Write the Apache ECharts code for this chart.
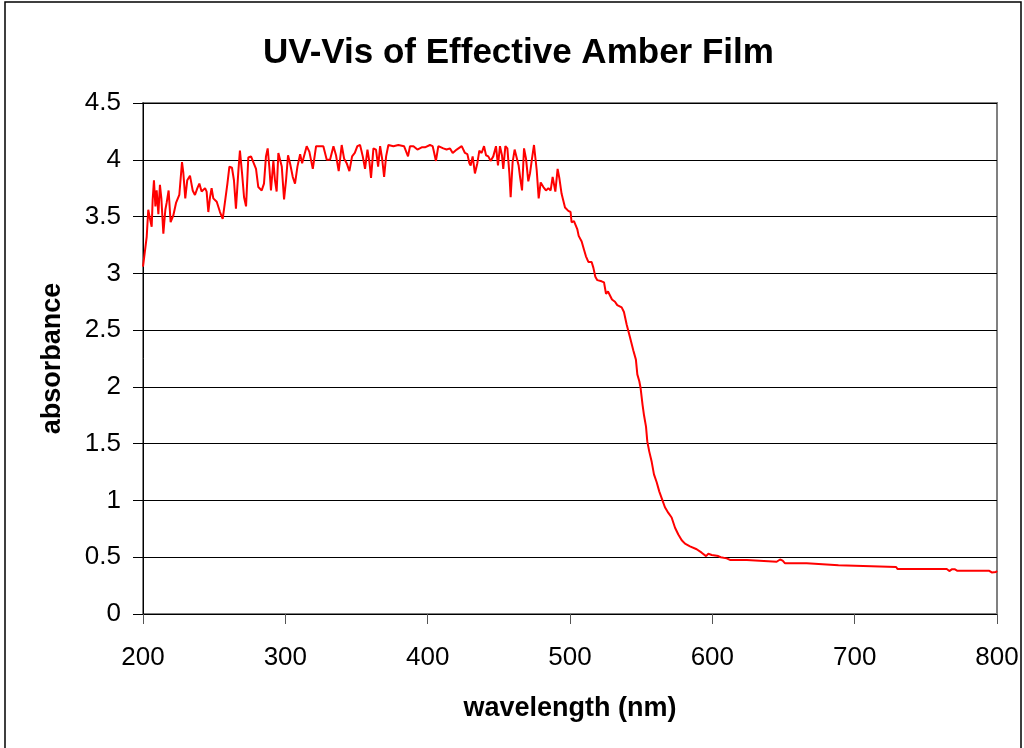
<!DOCTYPE html>
<html>
<head>
<meta charset="utf-8">
<script src="https://cdn.jsdelivr.net/npm/echarts@6/dist/echarts.min.js"></script>
<style>
  html, body { margin: 0; padding: 0; background: #fff; }
  #main { width: 1024px; height: 748px; }
</style>
</head>
<body>
<div id="main"></div>
<script>
// wavelength (nm) and absorbance
const wavelength = [
  200, 202.6, 203.7, 204.9, 206.1, 206.8, 207.7, 208.7, 209.6, 210.8, 211.9, 212.9, 214.3, 215.7, 216.6, 218, 219.4,
  221.3, 223.2, 225.5, 227.4, 228.3, 229.7, 231.1, 233, 234.9, 236.5, 238.2, 239.6, 241.2, 243.6, 244.7, 245.9,
  247.1, 248.2, 249.4, 251.8, 254.1, 256, 257.6, 259.3, 260.7, 262.5, 263.9, 265.3, 267, 268.1, 269.6, 271, 272.4,
  274, 275.9, 277.5, 279.4, 281, 283.4, 285, 286.4, 287.6, 288.8, 289.9, 291.6, 292.7, 293.9, 295.1, 296.3, 297.5,
  299.1, 300.5, 301.9, 303.3, 305.2, 306.8, 308.5, 310.4, 311.8, 313.2, 315, 316.9, 319.3, 321.6, 324, 326.7, 329.1,
  331.4, 333.8, 335.6, 337.5, 339.6, 341.3, 343.1, 345, 346.9, 348.8, 350.6, 352.5, 354.4, 356, 357.7, 359.1, 360.2,
  361.9, 363.7, 365.2, 366.6, 368, 369.4, 370.8, 372.4, 375.9, 379.4, 383.4, 386.2, 387.6, 390, 392.8, 395.8, 398.1,
  401.6, 403.5, 404.4, 405.8, 407.5, 411, 413.3, 415.7, 417.6, 420.4, 423.9, 426.2, 427.9, 429.3, 430.2, 431.6, 433.2,
  434.9, 436.3, 437.9, 439.6, 441, 442.6, 444.2, 446.1, 448, 449.4, 450.8, 452.2, 453.1, 454.6, 456, 457.4, 458.3,
  459.7, 461.1, 462.5, 463.9, 464.9, 466.3, 467.7, 469.1, 470.7, 471.9, 473.3, 474.7, 475.6, 476.6, 478, 479.4, 481.3,
  483.1, 484.8, 486.4, 487.8, 489.7, 491.3, 492.5, 494.1, 496.5, 498.8, 500.4, 501.1, 502.8, 504.2, 505.1, 506.1,
  508.2, 509.8, 511.2, 512.9, 515.2, 516.4, 517.8, 519.2, 522.2, 523.9, 525.3, 526.7, 528.1, 529.5, 531.6, 533.2,
  536.3, 537.9, 539.8, 542.1, 544.5, 546.3, 547.3, 548.7, 549.6, 551, 552, 553.4, 554.3, 555.7, 557.4, 559, 560.9,
  562.7, 564.4, 566.7, 569.1, 571.4, 573.8, 576.1, 578.5, 580.8, 584.3, 589, 592.5, 595.6, 597.2, 599.6, 600.7, 604.2,
  605.9, 610.1, 612.4, 624.2, 625.3, 645.2, 647.6, 649.4, 651.1, 666.3, 667.5, 688.6, 689.7, 729.1, 730.2, 764.7,
  766.5, 768.2, 770.5, 772.2, 794.6, 796.3, 799.3, 800
];
const absorbance = [
  3.06, 3.32, 3.56, 3.48, 3.41, 3.65, 3.82, 3.59, 3.73, 3.52, 3.78, 3.66, 3.35, 3.56, 3.62, 3.73, 3.45,
  3.51, 3.62, 3.69, 3.98, 3.89, 3.66, 3.82, 3.86, 3.73, 3.69, 3.75, 3.79, 3.72, 3.75, 3.72, 3.54,
  3.67, 3.75, 3.66, 3.63, 3.54, 3.48, 3.63, 3.79, 3.94, 3.93, 3.82, 3.57, 3.9, 4.08, 3.88, 3.67, 3.59,
  4.02, 4.03, 3.98, 3.92, 3.76, 3.73, 3.79, 4.03, 4.1, 3.93, 3.73, 3.99, 3.82, 3.72, 4.06, 4.07, 3.94,
  3.65, 3.82, 4.04, 3.97, 3.85, 3.79, 3.94, 4.05, 3.97, 3.98, 4.12, 4.07, 3.92, 4.12, 4.12, 4.12, 4.0,
  4.0, 4.12, 4.04, 3.9, 4.13, 4.01, 3.97, 3.9, 4.03, 4.06, 4.12, 4.13, 4.03, 3.92, 4.09, 3.98, 3.84,
  4.1, 4.09, 3.94, 4.12, 4.01, 3.85, 4.03, 4.13, 4.12, 4.13, 4.12, 4.03, 4.12, 4.12, 4.09, 4.11, 4.11,
  4.13, 4.12, 4.07, 3.99, 4.12, 4.1, 4.09, 4.1, 4.06, 4.09, 4.12, 4.06, 4.05, 3.97, 3.95, 4.03, 3.88,
  3.97, 4.08, 4.06, 4.12, 4.04, 4.03, 3.99, 4.03, 4.12, 3.95, 4.12, 4.04, 3.92, 4.12, 4.1, 3.88, 3.67,
  3.98, 4.09, 4.1, 3.95, 3.85, 3.73, 4.1, 4.01, 3.81, 3.88, 4.01, 4.13, 4.13, 3.91, 3.66, 3.8, 3.76,
  3.73, 3.75, 3.73, 3.85, 3.72, 3.92, 3.84, 3.7, 3.58, 3.55, 3.54, 3.45, 3.46, 3.46, 3.39, 3.33,
  3.28, 3.21, 3.15, 3.1, 3.1, 3.05, 2.97, 2.94, 2.93, 2.92, 2.82, 2.84, 2.85, 2.77, 2.75, 2.72,
  2.7, 2.66, 2.55, 2.44, 2.32, 2.24, 2.11, 2.05, 1.99, 1.84, 1.75, 1.65, 1.52, 1.43, 1.34, 1.23, 1.16,
  1.08, 1.02, 0.94, 0.89, 0.85, 0.76, 0.7, 0.65, 0.62, 0.595, 0.57, 0.54, 0.51, 0.53, 0.52, 0.51, 0.51,
  0.5, 0.49, 0.476, 0.476, 0.46, 0.46, 0.48, 0.47, 0.446, 0.446, 0.43, 0.43, 0.414, 0.414, 0.396, 0.396,
  0.378, 0.393, 0.393, 0.38, 0.38, 0.366, 0.37, 0.38
];

const chart = echarts.init(document.getElementById('main'));
const font = 'Liberation Sans, Arial, sans-serif';

const option = {
  backgroundColor: '#fff',
  animation: false,
  title: {
    text: 'UV-Vis of Effective Amber Film',
    left: 258,
    top: 31,
    textStyle: { fontFamily: font, fontSize: 35, fontWeight: 'bold', color: '#000' }
  },
  grid: {
    left: 143, right: 27, top: 103, bottom: 134,
    show: true, borderColor: '#808080', borderWidth: 2, backgroundColor: 'transparent'
  },
  xAxis: {
    type: 'value',
    min: 200, max: 800, interval: 100,
    name: 'wavelength (nm)',
    nameLocation: 'middle',
    nameGap: 81,
    nameTextStyle: { fontFamily: font, fontSize: 27, fontWeight: 'bold', color: '#000' },
    axisLine: { lineStyle: { color: '#000', width: 1 } },
    axisTick: { length: 10, lineStyle: { color: '#555' } },
    axisLabel: { margin: 31, fontFamily: font, fontSize: 26, color: '#000' },
    splitLine: { show: false }
  },
  yAxis: {
    type: 'value',
    min: 0, max: 4.5, interval: 0.5,
    name: 'absorbance',
    nameLocation: 'middle',
    nameGap: 77,
    nameRotate: 90,
    nameTextStyle: { fontFamily: font, fontSize: 27, fontWeight: 'bold', color: '#000' },
    axisLine: { show: true, lineStyle: { color: '#000', width: 1 } },
    axisTick: { show: true, length: 10, lineStyle: { color: '#000' } },
    axisLabel: { margin: 22, fontFamily: font, fontSize: 26, color: '#000' },
    splitLine: { show: true, lineStyle: { color: '#000', width: 1 } }
  },
  series: [{
    type: 'line',
    data: wavelength.map((w, i) => [w, absorbance[i]]),
    showSymbol: false,
    symbol: 'none',
    lineStyle: { color: '#ff0000', width: 2 },
    z: 5
  }],
  graphic: [{
    type: 'rect',
    shape: { x: 5, y: 2, width: 1016, height: 800 },
    style: { fill: 'none', stroke: '#000', lineWidth: 1.5 },
    silent: true
  }]
};

chart.setOption(option);
</script>
</body>
</html>
